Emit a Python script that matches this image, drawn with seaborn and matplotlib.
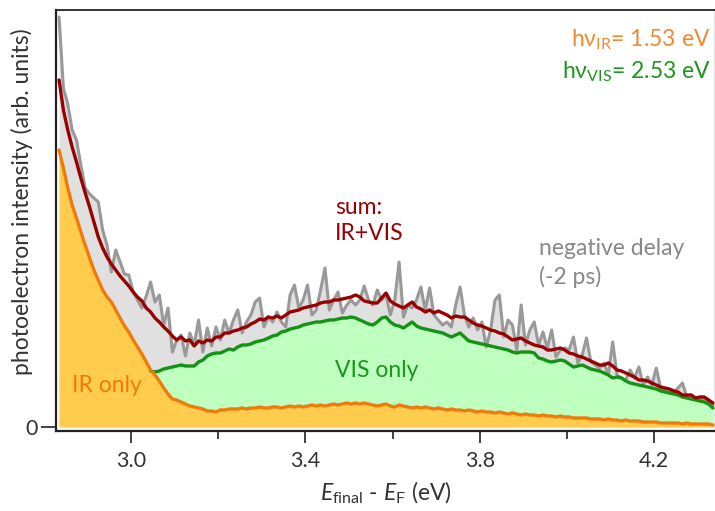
import numpy as np
import pandas as pd
import matplotlib
matplotlib.use("Agg")
import matplotlib.pyplot as plt
import seaborn as sns

# ---------------- data (arb. units) ----------------
e_start = 2.835          # first energy point (eV)
e_step = 0.01            # energy step (eV)

neg_delay = [410, 339, 323, 297, 287, 262, 239, 233, 229, 225,
             197, 182, 155, 177, 165, 153, 152, 135, 127, 119,
             131, 145, 125, 132, 102, 119, 75, 87, 92, 71,
             94, 82, 107, 75, 99, 81, 100, 87, 107, 94,
             107, 117, 94, 105, 112, 125, 129, 100, 110, 105,
             115, 105, 100, 132, 142, 119, 127, 142, 112, 117,
             137, 159, 117, 127, 135, 114, 122, 127, 122, 127,
             141, 127, 122, 137, 127, 132, 112, 127, 165, 110,
             122, 119, 127, 140, 117, 139, 112, 107, 102, 105,
             100, 122, 140, 112, 100, 109, 97, 105, 80, 97,
             127, 132, 90, 107, 102, 77, 122, 82, 97, 105,
             82, 95, 79, 97, 70, 77, 79, 77, 90, 64,
             72, 89, 65, 62, 59, 64, 52, 85, 52, 49,
             47, 57, 49, 60, 42, 50, 42, 59, 39, 37,
             37, 35, 39, 44, 30, 32, 29, 27, 29, 25,
             22]

sum_ir_vis = [347, 317, 297, 280, 265, 249, 234, 220, 205, 190,
              179, 170, 163, 157, 151, 146, 141, 135, 130, 126,
              119, 115, 109, 105, 100, 96, 91, 87, 90, 86,
              87, 81, 86, 84, 87, 86, 90, 90, 94, 94,
              96, 97, 99, 100, 103, 105, 108, 107, 110, 109,
              111, 109, 112, 115, 116, 117, 119, 120, 121, 122,
              124, 125, 125, 127, 127, 128, 129, 130, 132, 130,
              126, 125, 124, 124, 129, 134, 126, 123, 121, 119,
              122, 125, 120, 118, 115, 117, 114, 116, 114, 112,
              109, 111, 110, 110, 107, 104, 102, 101, 99, 97,
              96, 94, 93, 90, 87, 88, 89, 86, 84, 82,
              81, 80, 77, 77, 78, 79, 77, 74, 73, 71,
              70, 68, 66, 64, 62, 62, 64, 61, 57, 56,
              54, 52, 50, 47, 47, 46, 44, 42, 40, 39,
              38, 36, 35, 32, 32, 32, 29, 30, 30, 27,
              24]

nan = np.nan
vis_only_top = [nan] * 21 + [
    56, 55, 56, 58, 59, 60, 61, 62, 61,
    61, 61, 65, 67, 71, 73, 74, 74, 76, 78,
    77, 80, 82, 82, 83, 85, 86, 87, 89, 91,
    92, 95, 96, 98, 99, 100, 102, 103, 104, 105,
    105, 106, 107, 107, 108, 109, 109, 110, 109, 107,
    105, 103, 102, 105, 109, 110, 105, 102, 101, 99,
    102, 105, 101, 99, 98, 97, 96, 95, 94, 92,
    90, 92, 94, 90, 86, 85, 84, 83, 82, 81,
    80, 79, 78, 77, 75, 74, 75, 75, 75, 74,
    69, 68, 66, 65, 66, 67, 66, 63, 60, 61,
    62, 60, 58, 57, 56, 54, 52, 49, 50, 49,
    46, 44, 43, 42, 41, 40, 39, 38, 36, 35,
    34, 33, 32, 30, 29, 28, 27, 26, 25, 23,
    19]

ir_only = [277, 259, 239, 222, 209, 195, 182, 169, 157, 147,
           137, 130, 125, 117, 109, 101, 95, 87, 80, 73,
           65, 57, 52, 46, 39, 33, 28, 27, 25, 23,
           21, 20, 19, 18, 16, 16, 15, 17, 17, 18,
           18, 18, 19, 18, 19, 19, 20, 19, 19, 20,
           20, 19, 20, 21, 20, 21, 20, 21, 22, 21,
           22, 21, 22, 23, 22, 23, 24, 23, 24, 23,
           24, 23, 22, 21, 22, 23, 21, 20, 22, 21,
           20, 19, 20, 19, 20, 19, 18, 19, 18, 17,
           18, 17, 17, 16, 17, 16, 15, 16, 15, 15,
           14, 15, 14, 13, 14, 13, 12, 13, 12, 12,
           11, 12, 11, 11, 10, 11, 10, 10, 9, 9,
           9, 9, 8, 8, 8, 7, 8, 7, 7, 6,
           7, 6, 6, 6, 5, 5, 5, 5, 4, 4,
           4, 4, 4, 3, 4, 3, 3, 3, 3, 3,
           2]

x_major = [3.0, 3.4, 3.8, 4.2]
x_minor = [3.2, 3.6, 4.0]

energy = np.round(e_start + e_step * np.arange(len(ir_only)), 3)
df = pd.DataFrame({"E": energy, "neg": neg_delay, "sum": sum_ir_vis,
                   "vis": vis_only_top, "ir": ir_only})

# ---------------- style ----------------
sns.set_theme(style="white")
plt.rcParams["font.family"] = ["Lato", "Noto Sans", "DejaVu Sans"]
plt.rcParams["mathtext.fontset"] = "custom"
plt.rcParams["mathtext.rm"] = "Lato"
plt.rcParams["mathtext.it"] = "Lato:italic"
plt.rcParams["mathtext.sf"] = "Lato"
plt.rcParams["mathtext.fallback"] = "stixsans"

c_gray_line = "#999999"
c_gray_fill = "#e0e0e0"
c_red = "#990000"
c_green_line = "#129412"
c_green_fill = "#bfffbf"
c_orange_line = "#f07a0a"
c_orange_fill = "#ffcc4d"
c_text = "#333333"
fs = 16.5

fig = plt.figure(figsize=(7.15, 5.11), dpi=100)
ax = fig.add_axes([56 / 715, 80 / 511, 660 / 715, 421 / 511])

# fills
ax.fill_between(df["E"], 0, df["neg"], color=c_gray_fill, lw=0, zorder=1)
mask = df["vis"].notna()
ax.fill_between(df["E"][mask], df["ir"][mask], df["vis"][mask],
                color=c_green_fill, lw=0, zorder=2)
ax.fill_between(df["E"], 0, df["ir"], color=c_orange_fill, lw=0, zorder=3)

# lines
sns.lineplot(data=df, x="E", y="neg", color=c_gray_line, lw=2.2, ax=ax, zorder=4)
sns.lineplot(data=df[mask], x="E", y="vis", color=c_green_line, lw=2.4, ax=ax, zorder=5)
sns.lineplot(data=df, x="E", y="sum", color=c_red, lw=2.4, ax=ax, zorder=6)
sns.lineplot(data=df, x="E", y="ir", color=c_orange_line, lw=2.4, ax=ax, zorder=7)

ax.set_xlim(2.828, 4.342)
ax.set_ylim(-4, 417)

ax.set_xticks(x_major)
ax.set_xticklabels([f"{v:.1f}" for v in x_major])
ax.set_xticks(x_minor, minor=True)
ax.set_yticks([0])
ax.set_yticklabels(["0"])
ax.tick_params(axis="x", which="major", direction="out", length=8.5, width=1.3,
               color=c_text, labelsize=15.5, labelcolor=c_text, pad=6, bottom=True)
ax.tick_params(axis="x", which="minor", direction="out", length=6, width=1.3,
               color=c_text, bottom=True)
ax.tick_params(axis="y", which="major", direction="out", length=11, width=1.3,
               color=c_text, labelsize=15.5, labelcolor=c_text, pad=2, left=True)

for side in ["left", "bottom", "top", "right"]:
    ax.spines[side].set_visible(True)
    ax.spines[side].set_color("#222222")
    ax.spines[side].set_linewidth(1.6)
ax.spines["top"].set_linewidth(1.3)

ax.set_ylabel("photoelectron intensity (arb. units)", fontsize=fs, color=c_text)
ax.yaxis.set_label_coords(-0.035, 0.545)
ax.set_xlabel(r"$E_{\mathrm{final}}$ - $E_{\mathrm{F}}$ (eV)", fontsize=fs,
              color=c_text, labelpad=6)

# annotations
ax.text(0.992, 0.929, r"h$\mathrm{ν}_{\mathrm{IR}}$= 1.53 eV", transform=ax.transAxes,
        ha="right", va="center", fontsize=fs, color="#f08a30")
ax.text(0.992, 0.853, r"h$\mathrm{ν}_{\mathrm{VIS}}$= 2.53 eV", transform=ax.transAxes,
        ha="right", va="center", fontsize=fs, color="#1d961d")
ax.text(3.468, 219, "sum:", ha="left", va="center", fontsize=fs, color=c_red)
ax.text(3.468, 193, "IR+VIS", ha="left", va="center", fontsize=fs, color=c_red)
ax.text(3.935, 179, "negative delay", ha="left", va="center", fontsize=fs, color="#888888")
ax.text(3.935, 150, "(-2 ps)", ha="left", va="center", fontsize=fs, color="#888888")
ax.text(3.468, 57, "VIS only", ha="left", va="center", fontsize=fs, color="#1a961a")
ax.text(2.864, 42, "IR only", ha="left", va="center", fontsize=fs, color=c_orange_line)

fig.savefig("out.png", dpi=100)
